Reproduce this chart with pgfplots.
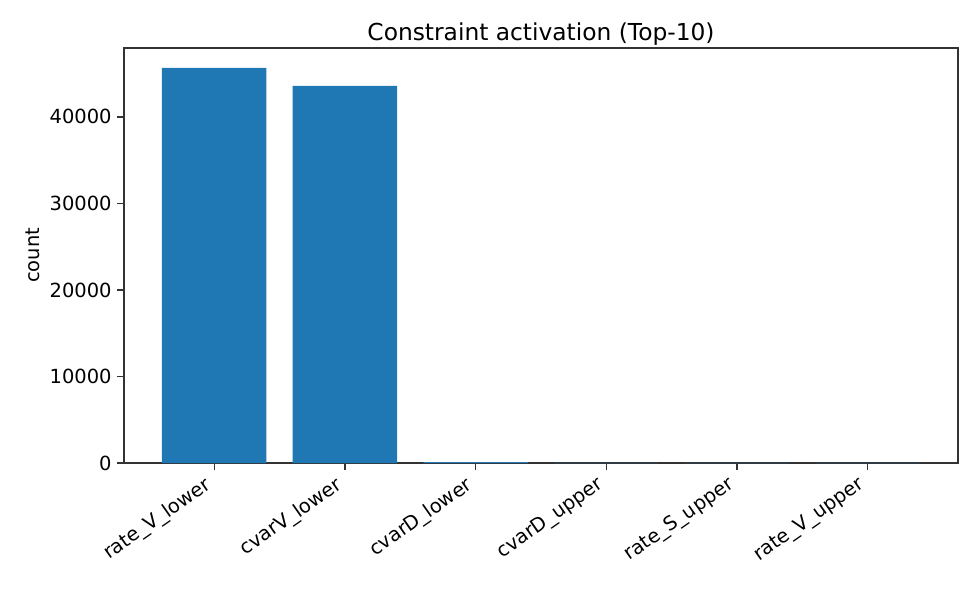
\documentclass[border=0pt]{standalone}
\usepackage{pgfplots}
\pgfplotsset{compat=1.18}
\usepackage{fontspec}
\setmainfont{DejaVu Sans}
\definecolor{mplblue}{HTML}{1F77B4}
\begin{document}
\begin{tikzpicture}
\begin{axis}[
  scale only axis,
  width=625.5pt, height=311.25pt,
  xmin=-0.69, xmax=5.69,
  ymin=0, ymax=47964,
  xtick={0,1,2,3,4,5},
  xticklabels={rate\_V\_lower,cvarV\_lower,cvarD\_lower,cvarD\_upper,rate\_S\_upper,rate\_V\_upper},
  x tick label style={xshift=-8pt, yshift=-4pt, rotate=35, anchor=north east, font=\fontsize{14.6}{17}\selectfont, inner sep=0pt},
  ytick={0,10000,20000,30000,40000},
  scaled y ticks=false,
  y tick label style={/pgf/number format/1000 sep={}, font=\fontsize{14.6}{17}\selectfont, inner sep=0pt, xshift=-4pt},
  /pgf/number format/assume math mode=true,
  tick align=outside,
  major tick length=5.1pt,
  tick style={black!80, line width=0.9pt},
  xtick pos=bottom, ytick pos=left,
  axis line style={black!80, line width=0.9pt},
  ylabel={count},
  ylabel style={font=\fontsize{14.6}{17}\selectfont, yshift=4pt},
  title={Constraint activation (Top-10)},
  title style={font=\fontsize{17.5}{20}\selectfont, inner sep=0pt, yshift=-4pt},
]
\addplot[ybar, bar width=0.8, fill=mplblue, draw=none, bar shift=0pt] coordinates {
(0,45680) (1,43600) (2,100) (3,10) (4,5) (5,3)
};
\end{axis}
\pgfresetboundingbox
\path (-93pt,-93.75pt) rectangle (642pt,347.25pt);
\end{tikzpicture}
\end{document}
